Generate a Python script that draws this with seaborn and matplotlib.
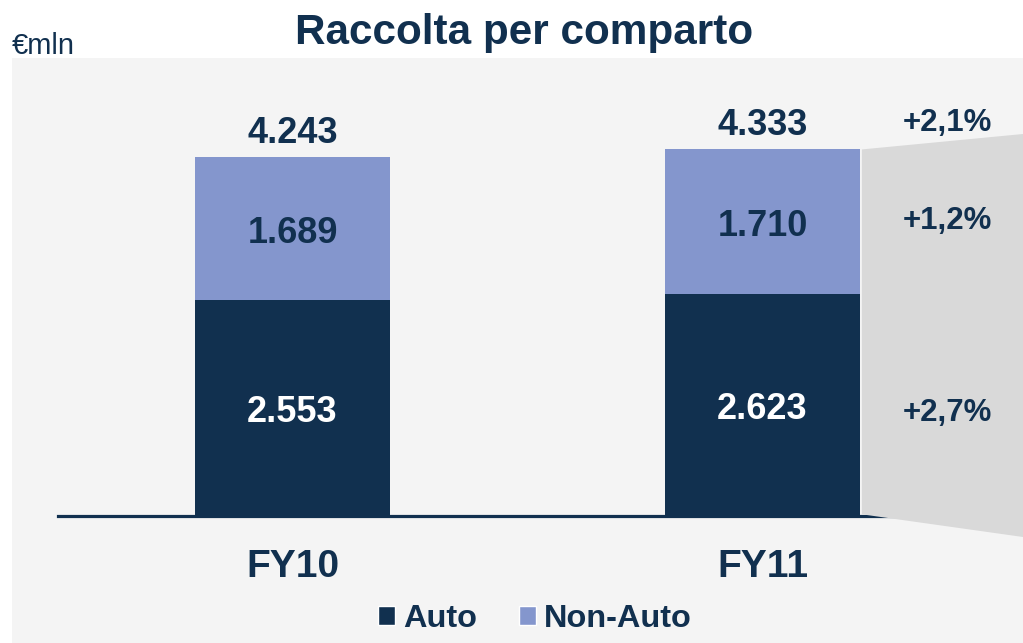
import matplotlib
matplotlib.use("Agg")
import matplotlib.pyplot as plt
from matplotlib.patches import Polygon, Patch
import seaborn as sns
import pandas as pd

categories = ["FY10", "FY11"]
auto = [2553, 2623]
non_auto = [1689, 1710]
totals = [4243, 4333]
growth_labels = ["+2,1%", "+1,2%", "+2,7%"]

NAVY = "#11304f"
LIGHT = "#8496cd"
BG = "#f4f4f4"
GRAY = "#d9d9d9"

sns.set_theme(style="white")
plt.rcParams["font.family"] = ["Liberation Sans", "DejaVu Sans"]

W, H = 1023, 643
fig = plt.figure(figsize=(W / 100, H / 100), dpi=100)
fig.patch.set_facecolor("white")
ax = fig.add_axes([12 / W, 0, (W - 12) / W, (H - 58) / H])
ax.set_facecolor(BG)

df = pd.DataFrame({"cat": categories, "auto": auto, "non_auto": non_auto, "total": totals})

bw = 195 / 470
sns.barplot(data=df, x="cat", y="total", color=LIGHT, width=bw, saturation=1, ax=ax,
            zorder=3, edgecolor="none", linewidth=0)
sns.barplot(data=df, x="cat", y="auto", color=NAVY, width=bw, saturation=1, ax=ax,
            zorder=4, edgecolor="none", linewidth=0)

xmin, xmax = -(292.5 - 12) / 470, 1 + (1023 - 762.5) / 470
scale = 0.0846
ymin, ymax = -(643 - 516) / scale, (516 - 58) / scale
ax.set_xlim(xmin, xmax)
ax.set_ylim(ymin, ymax)

# baseline as the bottom spine at y = 0
for s in ax.spines.values():
    s.set_visible(False)
ax.spines["bottom"].set_visible(True)
ax.spines["bottom"].set_position(("data", 0))
ax.spines["bottom"].set_bounds((58 - 292.5) / 470, xmax)
ax.spines["bottom"].set_color(NAVY)
ax.spines["bottom"].set_linewidth(2.3)
ax.spines["bottom"].set_zorder(2)

# gray comparison wedge
xr = 1 + bw / 2 + 0.004
poly = Polygon([(xr, totals[1]), (xmax, (516 - 134) / scale),
                (xmax, (516 - 537) / scale), (xr, 20)],
               closed=True, facecolor=GRAY, edgecolor="none", zorder=5)
ax.add_patch(poly)

for i in range(len(categories)):
    ax.annotate(f"{totals[i]:,}".replace(",", "."), (i, totals[i]), xytext=(0, 17),
                textcoords="offset points", ha="center", va="center",
                fontsize=26, fontweight="bold", color=NAVY, zorder=6)
    ax.annotate(f"{non_auto[i]:,}".replace(",", "."), (i, auto[i] + non_auto[i] / 2),
                xytext=(0, -3.5), textcoords="offset points",
                ha="center", va="center", fontsize=26, fontweight="bold", color=NAVY, zorder=6)
    ax.annotate(f"{auto[i]:,}".replace(",", "."), (i, auto[i] / 2),
                xytext=(0, -3.5), textcoords="offset points",
                ha="center", va="center", fontsize=26, fontweight="bold", color="white", zorder=6)

gx = 1 + (947 - 762.5) / 470
gy = [totals[1] + 310, auto[1] + non_auto[1] / 2 + 10, auto[1] / 2 - 90]
for lab, y in zip(growth_labels, gy):
    ax.text(gx, y, lab, ha="center", va="center", fontsize=22.5,
            fontweight="bold", color=NAVY, zorder=6)

ax.set_xlabel("")
ax.set_ylabel("")
ax.set_yticks([])
ax.set_xticks(range(len(categories)))
ax.set_xticklabels(categories, fontsize=28, fontweight="bold", color=NAVY)
ax.tick_params(axis="x", length=0, pad=24)

handles = [Patch(facecolor=NAVY, label="Auto"), Patch(facecolor=LIGHT, label="Non-Auto")]
leg = ax.legend(handles=handles, ncol=2, loc="center",
                bbox_to_anchor=((535 - 12) / (W - 12), (643 - 619) / (H - 58)),
                frameon=False, handlelength=0.53, handleheight=0.53, handletextpad=0.25,
                columnspacing=1.28, borderaxespad=0,
                prop={"family": "Liberation Sans", "weight": "bold", "size": 23.4})
for t in leg.get_texts():
    t.set_color(NAVY)

fig.text(524 / W, 1 - 44 / H, "Raccolta per comparto", ha="center", va="baseline",
         fontsize=30.4, fontweight="bold", color=NAVY)
fig.text(12 / W, 1 - 54 / H, "€mln", ha="left", va="baseline", fontsize=21, color=NAVY)

fig.savefig("out.png", dpi=100, facecolor="white")
